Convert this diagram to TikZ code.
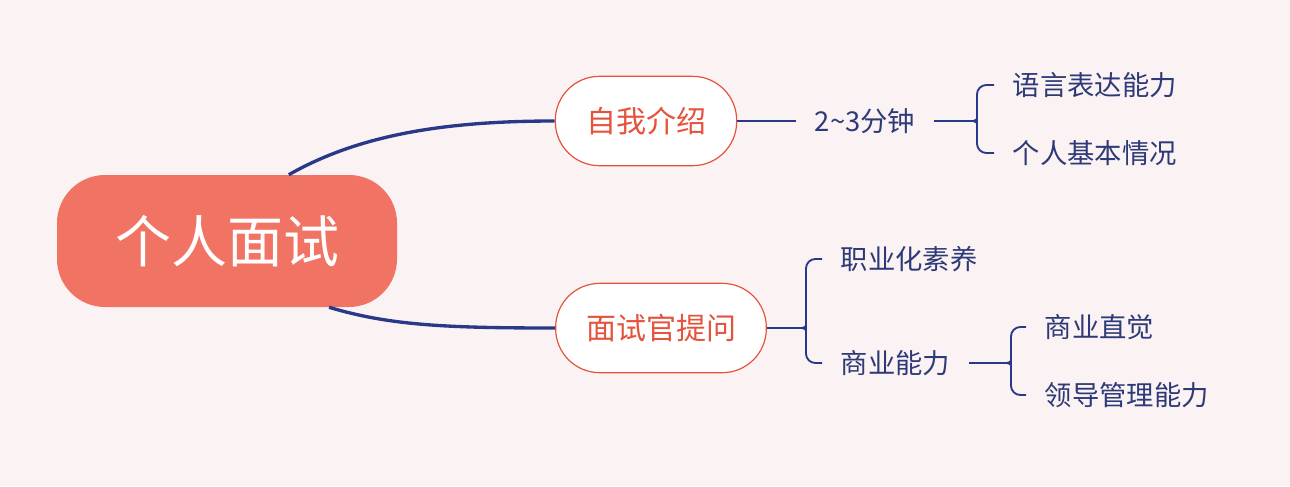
\documentclass[tikz,border=0pt]{standalone}
\usepackage{fontspec}
\newfontfamily\cjk{Noto Sans CJK SC}
\usepackage{tikz}

\definecolor{bgpink}{HTML}{FBF3F3}
\definecolor{rootred}{HTML}{F17364}
\definecolor{topicred}{HTML}{E5533D}
\definecolor{linenavy}{HTML}{2A388A}
\definecolor{textnavy}{HTML}{2E3A78}

\begin{document}
\begin{tikzpicture}[x = 0.75pt, y = -0.75pt,
    root/.style = {rectangle, rounded corners = 36pt, fill = rootred, text = white,
        minimum width = 255pt, minimum height = 99pt, font = \cjk\fontsize{42}{42}\selectfont},
    topic/.style = {rectangle, rounded corners = 33pt, draw = topicred, fill = white, line width = 0.9pt,
        text = topicred, minimum height = 67pt, font = \cjk\fontsize{22.5}{22.5}\selectfont},
    leaf/.style = {inner xsep = 14pt, text = textnavy, font = \cjk\fontsize{20.5}{20.5}\selectfont},
    branch/.style = {linenavy, line width = 2.5pt},
    twig/.style = {linenavy, line width = 1.4pt, rounded corners = 7pt}]
\fill[bgpink] (0,0) rectangle (1290,486);
\draw (227,241) node[root](r){个人面试}
    (646,121) node[topic, minimum width = 136pt](a1){自我介绍}
    (661,328) node[topic, minimum width = 158pt](a2){面试官提问}
    (865,121) node[leaf](b0){2\char`\~3分钟}
    (994,85) node[leaf, anchor = west](b1){语言表达能力}
    (994,153) node[leaf, anchor = west](b2){个人基本情况}
    (822,259) node[leaf, anchor = west](b3){职业化素养}
    (822,363) node[leaf, anchor = west](b4){商业能力}
    (1026,327) node[leaf, anchor = west](b5){商业直觉}
    (1026,395) node[leaf, anchor = west](b6){领导管理能力};
\coordinate (c1) at (973,121);
\coordinate (c2) at (802,328);
\coordinate (c3) at (1007,363);
    % main branches
    \draw [branch] (r.47) .. controls +(70,-40) and +(-110,0) .. (a1.west);
    \draw [branch] (r.-33) .. controls +(60,18) and +(-110,0) .. (a2.west);
    % first topic
    \draw [twig] (a1.east) -- (b0.west);
    \draw [twig] (b0.east) -- (c1);
    \draw [twig] (c1) to[out=0,in=-90] ++(4,-8) |- (b1.west);
    \draw [twig] (c1) to[out=0,in=90] ++(4,8) |- (b2.west);
    % second topic
    \draw [twig] (a2.east) -- (c2);
    \draw [twig] (c2) to[out=0,in=-90] ++(4,-8) |- (b3.west);
    \draw [twig] (c2) to[out=0,in=90] ++(4,8) |- (b4.west);
    \draw [twig] (b4.east) -- (c3);
    \draw [twig] (c3) to[out=0,in=-90] ++(4,-8) |- (b5.west);
    \draw [twig] (c3) to[out=0,in=90] ++(4,8) |- (b6.west);
\end{tikzpicture}
\end{document}
